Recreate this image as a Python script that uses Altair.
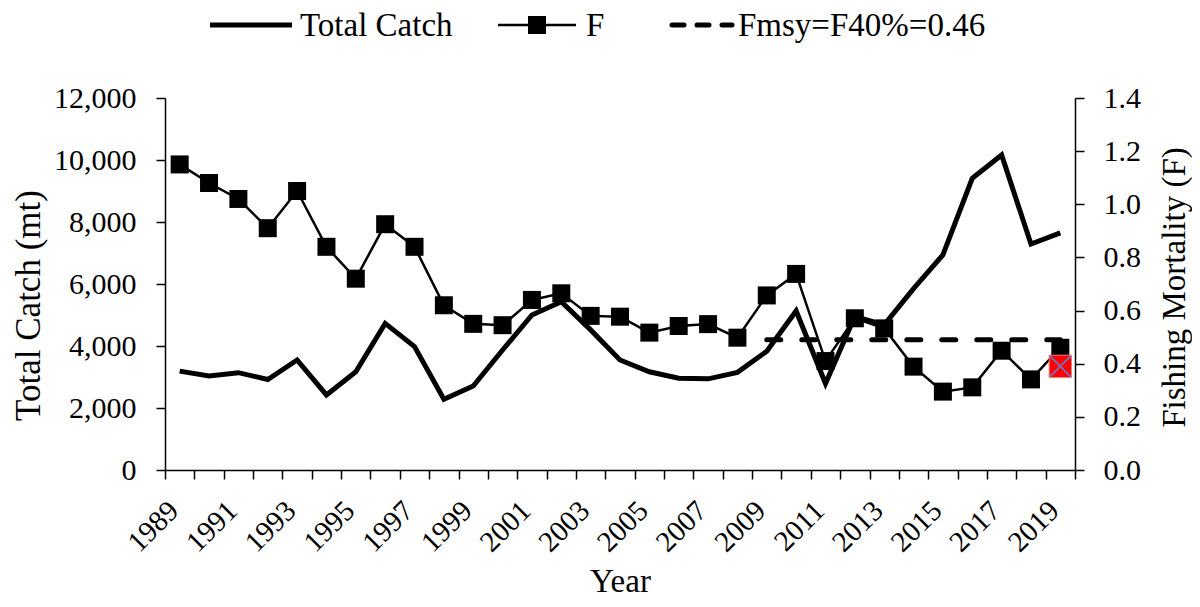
import altair as alt
import pandas as pd

# ---------------- data ----------------
years = list(range(1989, 2020))
total_catch = [3190, 3030, 3140, 2920, 3550, 2420, 3170, 4730, 3980, 2280,
               2710, 3870, 5000, 5430, 4520, 3550, 3170, 2960, 2940, 3150,
               3830, 5130, 2790, 4950, 4680, 5850, 6940, 9410, 10160, 7290, 7650]
f_values = [1.15, 1.08, 1.02, 0.91, 1.05, 0.84, 0.72, 0.925, 0.84, 0.62,
            0.55, 0.545, 0.64, 0.665, 0.58, 0.577, 0.517, 0.542, 0.549, 0.498,
            0.657, 0.738, 0.41, 0.571, 0.533, 0.389, 0.295, 0.311, 0.449, 0.341, 0.46]
fmsy_years = [2009, 2010, 2011, 2012, 2013, 2014, 2015, 2016, 2017, 2018, 2019]
fmsy_values = [0.49, 0.49, 0.49, 0.49, 0.49, 0.49, 0.49, 0.49, 0.49, 0.49, 0.49]
alt_year = [2019]
alt_f = [0.39]

catch_ticks = [0, 2000, 4000, 6000, 8000, 10000, 12000]
f_ticks = [0.0, 0.2, 0.4, 0.6, 0.8, 1.0, 1.2, 1.4]

df_main = pd.DataFrame({"Year": years, "Catch": total_catch, "F": f_values})
df_fmsy = pd.DataFrame({"Year": fmsy_years, "F": fmsy_values})
df_alt = pd.DataFrame({"Year": alt_year, "F": alt_f})
one = pd.DataFrame({"k": [0]})

FONT = "Liberation Serif"
W, H = 910, 372

x_enc = alt.X(
    "Year:O",
    scale=alt.Scale(type="band", domain=years, paddingInner=0, paddingOuter=0),
    bandPosition=0.5,
    axis=alt.Axis(
        title="Year",
        labelExpr="datum.value % 2 == 1 ? datum.label : ''",
        labelAngle=-45, labelAlign="right", labelBaseline="alphabetic",
        labelFontSize=29, labelPadding=33, labelOverlap=False,
        tickBand="extent", tickSize=9,
        titleY=121, titleBaseline="alphabetic",
    ),
)

y_catch = alt.Y(
    "Catch:Q",
    scale=alt.Scale(domain=[0, 12000], nice=False),
    axis=alt.Axis(
        title="Total Catch (mt)", orient="left", values=catch_ticks, format=",.0f",
        tickSize=9, labelPadding=20, grid=False, titleFontSize=35,
        titleAngle=270, titleX=-137, titleY=207, titleBaseline="middle", titleAlign="center",
    ),
)

y_f = alt.Y(
    "F:Q",
    scale=alt.Scale(domain=[0, 1.4], nice=False),
    axis=alt.Axis(
        title="Fishing Mortality (F)", orient="right", values=f_ticks, format=".1f",
        tickSize=9, labelPadding=19, grid=False,
        titleAngle=270, titleX=99, titleY=189, titleBaseline="middle", titleAlign="center",
    ),
)

catch_line = alt.Chart(df_main).mark_line(color="black", strokeWidth=5, strokeJoin="miter").encode(
    x=x_enc, y=y_catch
)

f_line = alt.Chart(df_main).mark_line(color="black", strokeWidth=2.5).encode(x=x_enc, y=y_f)
f_pts = alt.Chart(df_main).mark_square(color="black", size=324, opacity=1).encode(x=x_enc, y=y_f)
fmsy_line = alt.Chart(df_fmsy).mark_line(
    color="black", strokeWidth=5, strokeDash=[14, 21], strokeCap="round"
).encode(x=x_enc, y=y_f)
alt_sq = alt.Chart(df_alt).mark_square(
    color="#FF0000", size=500, opacity=1, stroke="#F28080", strokeWidth=1
).encode(x=x_enc, y=y_f)
alt_x = alt.Chart(df_alt).mark_point(
    shape="M-1,-1L1,1M-1,1L1,-1", filled=False, size=420, stroke="#7570B3",
    strokeWidth=2, opacity=1
).encode(x=x_enc, y=y_f)

f_layer = alt.layer(fmsy_line, f_line, f_pts, alt_sq, alt_x)

# ---------------- legend (top, drawn as marks) ----------------
LY = -73
LFS = 33
leg = [
    alt.Chart(one).mark_rule(color="black", strokeWidth=5).encode(
        x=alt.value(45), x2=alt.value(127), y=alt.value(LY)),
    alt.Chart(one).mark_text(text="Total Catch", align="left", baseline="middle",
                             font=FONT, fontSize=LFS, color="black").encode(
        x=alt.value(135), y=alt.value(LY + 1)),
    alt.Chart(one).mark_rule(color="black", strokeWidth=2.5).encode(
        x=alt.value(333), x2=alt.value(411), y=alt.value(LY)),
    alt.Chart(one).mark_square(color="black", size=324, opacity=1).encode(
        x=alt.value(372), y=alt.value(LY)),
    alt.Chart(one).mark_text(text="F", align="left", baseline="middle",
                             font=FONT, fontSize=LFS, color="black").encode(
        x=alt.value(421), y=alt.value(LY + 1)),
    alt.Chart(one).mark_rule(color="black", strokeWidth=5, strokeDash=[12, 13],
                             strokeCap="round").encode(
        x=alt.value(507), x2=alt.value(567), y=alt.value(LY)),
    alt.Chart(one).mark_text(text="Fmsy=F40%=0.46", align="left", baseline="middle",
                             font=FONT, fontSize=LFS, color="black").encode(
        x=alt.value(573), y=alt.value(LY + 1)),
]

chart = alt.layer(catch_line, f_layer, *leg).resolve_scale(y="independent").properties(
    width=W, height=H,
    autosize=alt.AutoSizeParams(type="none"),
    padding={"left": 157, "top": 90, "right": 117, "bottom": 129},
).configure_view(stroke=None).configure_axis(
    domainColor="black", domainWidth=1.5, tickColor="black", tickWidth=1.5,
    labelFont=FONT, labelFontSize=30, labelColor="black",
    titleFont=FONT, titleFontSize=33, titleFontWeight="normal", titleColor="black",
    grid=False,
)

chart.save("out.html", embed_options={"renderer": "svg", "actions": False})
